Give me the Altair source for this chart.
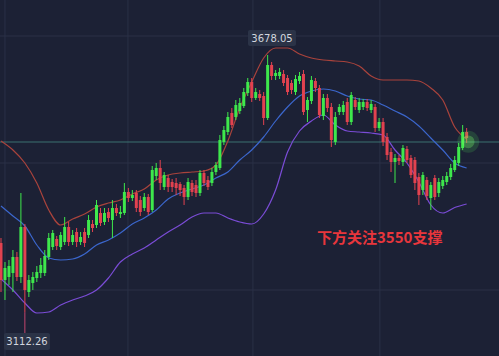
import altair as alt
import pandas as pd

opens = [3264.4, 3183, 3189.6, 3198.4, 3233.6, 3189.6, 3299.6, 3156.6, 3176.4, 3187.4,
         3198.4, 3198.4, 3233.6, 3255.6, 3273.2, 3255.6, 3266.6, 3299.6, 3266.6, 3288.6,
         3266.6, 3288.6, 3282, 3306.2, 3304, 3330.4, 3310.6, 3332.6, 3315, 3341.4,
         3328.2, 3330.4, 3376.6, 3363.4, 3374.4, 3359, 3341.4, 3365.6, 3337, 3411.8,
         3429.4, 3387.6, 3407.4, 3398.6, 3396.4, 3394.2, 3385.4, 3365.6, 3396.4, 3392,
         3374.4, 3418.4, 3403, 3396.4, 3420.6, 3429.4, 3486.6, 3508.6, 3550.4, 3541.6,
         3554.8, 3565.8, 3594.4, 3618.6, 3583.4, 3592.2, 3587.8, 3539.4, 3656, 3631.8,
         3631.8, 3636.2, 3627.4, 3616.4, 3596.6, 3620.8, 3636.2, 3557, 3576.8, 3620.8,
         3605.4, 3543.8, 3583.4, 3563.6, 3486.6, 3552.6, 3552.6, 3574.6, 3530.6, 3579,
         3557, 3563.6, 3574.6, 3557, 3563.6, 3517.4, 3530.6, 3497.6, 3464.6, 3442.6,
         3451.4, 3442.6, 3471.2, 3451.4, 3447, 3409.6, 3381, 3403, 3363.4, 3407.4,
         3374.4, 3389.8, 3398.6, 3409.6, 3425, 3440.4, 3473.4, 3508.6]
closes = [3183, 3209.4, 3213.8, 3233.6, 3189.6, 3299.6, 3161, 3183, 3189.6, 3200.6,
          3216, 3235.8, 3275.4, 3286.4, 3257.8, 3282, 3299.6, 3266.6, 3282, 3266.6,
          3277.6, 3264.4, 3315, 3297.4, 3348, 3308.4, 3330.4, 3319.4, 3341.4, 3330.4,
          3332.6, 3376.6, 3363.4, 3370, 3341.4, 3332.6, 3365.6, 3332.6, 3425, 3429.4,
          3396.4, 3414, 3387.6, 3387.6, 3385.4, 3381, 3365.6, 3398.6, 3376.6, 3374.4,
          3418.4, 3396.4, 3387.6, 3420.6, 3436, 3491, 3513, 3541.6, 3524, 3568,
          3572.4, 3596.6, 3618.6, 3583.4, 3596.6, 3583.4, 3539.4, 3656, 3631.8, 3638.4,
          3640.6, 3616.4, 3596.6, 3601, 3625.2, 3631.8, 3552.6, 3579, 3623, 3605.4,
          3546, 3583.4, 3561.4, 3491, 3541.6, 3563.6, 3568, 3530.6, 3590, 3563.6,
          3574.6, 3574.6, 3561.4, 3570.2, 3517.4, 3530.6, 3486.6, 3458, 3442.6, 3451.4,
          3444.8, 3473.4, 3447, 3414, 3396.4, 3370, 3414, 3367.8, 3392, 3365.6,
          3398.6, 3403, 3411.8, 3429.4, 3447, 3475.6, 3508.6, 3495.4]
highs = [3275.4, 3222.6, 3227, 3249, 3244.6, 3374.4, 3306.2, 3194, 3200.6, 3213.8,
         3231.4, 3249, 3286.4, 3293, 3279.8, 3288.6, 3321.6, 3310.6, 3293, 3297.4,
         3288.6, 3297.4, 3326, 3315, 3359, 3341.4, 3341.4, 3341.4, 3359, 3350.2,
         3345.8, 3396.4, 3385.4, 3381, 3381, 3367.8, 3374.4, 3372.2, 3433.8, 3440.4,
         3447, 3420.6, 3414, 3405.2, 3407.4, 3398.6, 3392, 3407.4, 3403, 3403,
         3425, 3425, 3411.8, 3429.4, 3442.6, 3502, 3521.8, 3552.6, 3561.4, 3579,
         3583.4, 3605.4, 3627.4, 3627.4, 3605.4, 3601, 3596.6, 3678.05, 3662.6, 3645,
         3649.4, 3645, 3634, 3623, 3634, 3640.6, 3645, 3585.6, 3631.8, 3627.4,
         3612, 3592.2, 3592.2, 3572.4, 3552.6, 3570.2, 3576.8, 3583.4, 3596.6, 3585.6,
         3583.4, 3581.2, 3581.2, 3579, 3570.2, 3539.4, 3539.4, 3506.4, 3473.4, 3460.2,
         3458, 3480, 3477.8, 3458, 3453.6, 3418.4, 3420.6, 3409.6, 3398.6, 3414,
         3407.4, 3411.8, 3420.6, 3438.2, 3455.8, 3484.4, 3524, 3517.4]
lows = [3156.6, 3139, 3172, 3156.6, 3180.8, 3176.4, 3112.26, 3145.6, 3161, 3178.6,
        3187.4, 3191.8, 3227, 3249, 3249, 3249, 3260, 3257.8, 3260, 3255.6,
        3260, 3255.6, 3275.4, 3288.6, 3297.4, 3301.8, 3304, 3310.6, 3275.4, 3323.8,
        3319.4, 3326, 3354.6, 3356.8, 3332.6, 3323.8, 3334.8, 3326, 3332.6, 3403,
        3381, 3381, 3376.6, 3376.6, 3370, 3367.8, 3348, 3359, 3367.8, 3365.6,
        3367.8, 3389.8, 3381, 3389.8, 3414, 3425, 3480, 3502, 3517.4, 3535,
        3548.2, 3561.4, 3587.8, 3574.6, 3579, 3576.8, 3524, 3535, 3623, 3623,
        3625.2, 3609.8, 3590, 3592.2, 3590, 3614.2, 3546, 3530.6, 3570.2, 3596.6,
        3539.4, 3535, 3552.6, 3475.6, 3480, 3546, 3546, 3524, 3524, 3557,
        3550.4, 3557, 3554.8, 3550.4, 3508.6, 3510.8, 3477.8, 3447, 3420.6, 3396.4,
        3436, 3433.8, 3440.4, 3407.4, 3381, 3348, 3370, 3359, 3337, 3359,
        3365.6, 3383.2, 3392, 3403, 3420.6, 3433.8, 3469, 3484.4]

band_idx = [0, 3, 6, 9, 12, 15, 18, 21, 24, 27, 30, 33, 36, 39, 42, 45, 48, 51, 54, 57,
            60, 63, 66, 69, 72, 75, 78, 81, 84, 87, 90, 93, 96, 99, 102, 105, 108, 111, 114, 117]
upper = [3488.8, 3469, 3440.4, 3396.4, 3337, 3304, 3317.2, 3328.2, 3343.6, 3352.4,
         3359, 3372.2, 3383.2, 3403, 3414, 3418.4, 3420.6, 3422.8, 3436, 3488.8,
         3561.4, 3618.6, 3671.4, 3693.4, 3693.4, 3680.2, 3671.4, 3667, 3664.8, 3662.6,
         3653.8, 3631.8, 3623, 3623, 3623, 3620.8, 3605.4, 3579, 3519.6, 3493.2]
middle = [3345.8, 3323.8, 3301.8, 3260, 3231.4, 3227, 3229.2, 3240.2, 3260, 3271,
          3286.4, 3306.2, 3319.4, 3337, 3361.2, 3374.4, 3383.2, 3392, 3407.4, 3420.6,
          3447, 3469, 3497.6, 3532.8, 3563.6, 3587.8, 3598.8, 3603.2, 3598.8, 3587.8,
          3581.2, 3579, 3568, 3554.8, 3541.6, 3521.8, 3495.4, 3469, 3440.4, 3429.4]
lower = [3185.2, 3161, 3132.4, 3110.4, 3112.6, 3128, 3139, 3147.8, 3161, 3187.4,
         3222.6, 3240.2, 3253.4, 3271, 3288.6, 3304, 3321.6, 3330.4, 3330.4, 3319.4,
         3310.6, 3306.2, 3328.2, 3381, 3464.6, 3510.8, 3532.8, 3546, 3524, 3510.8,
         3508.6, 3506.4, 3502, 3469, 3440.4, 3398.6, 3348, 3330.4, 3342.4, 3350.2]

grid_x = [1.0, 31.9, 63.3, 95.2]
grid_y = [3719.8, 3440.4, 3161]
high_label = "3678.05"
low_label = "3112.26"
note_text = "下方关注3550支撑"
last_price = 3486.6

BG = "#1c2135"
GREEN = "#3ee84c"
RED = "#e2424f"
UPPER_C = "#a9433c"
MID_C = "#3b66cc"
LOW_C = "#7a4cd6"

xs = alt.Scale(domain=[-0.25, 125.13], nice=False, zero=False)
ys = alt.Scale(domain=[3015.8, 3799], nice=False, zero=False)
X = lambda f: alt.X(f, type="quantitative", scale=xs, axis=None)
Y = lambda f: alt.Y(f, type="quantitative", scale=ys, axis=None)

candles = pd.DataFrame({
    "idx": list(range(len(opens))),
    "open": opens, "close": closes, "high": highs, "low": lows,
})
candles["up"] = [c >= o for o, c in zip(opens, closes)]
up_df = candles[candles["up"]]
dn_df = candles[~candles["up"]]

gx = alt.Chart(pd.DataFrame({"gx": grid_x})).mark_rule(color="#2a3046", strokeWidth=1).encode(x=X("gx"))
gy = alt.Chart(pd.DataFrame({"gy": grid_y})).mark_rule(color="#2a3046", strokeWidth=1).encode(y=Y("gy"))
price_line = alt.Chart(pd.DataFrame({"p": [last_price]})).mark_rule(
    color="#3f7f7a", strokeWidth=1, opacity=0.85).encode(y=Y("p"))


def band(vals, col):
    return alt.Chart(pd.DataFrame({"idx": band_idx, "v": vals})).mark_line(
        strokeWidth=1.2, interpolate="monotone", color=col).encode(x=X("idx"), y=Y("v"))


def candle_layers(df, col):
    w = alt.Chart(df).mark_rule(strokeWidth=1, color=col).encode(x=X("idx"), y=Y("low"), y2="high")
    b = alt.Chart(df).mark_rule(strokeWidth=3, color=col).encode(x=X("idx"), y=Y("open"), y2="close")
    return [w, b]


low_line = alt.Chart(pd.DataFrame({"i": [6], "a": [3112.26], "b": [3066.4]})).mark_rule(
    color="#c2466e", strokeWidth=1).encode(x=X("i"), y=Y("a"), y2="b")

glow = pd.DataFrame({"i": [117.4], "p": [3487]})
glow1 = alt.Chart(glow).mark_circle(color="#5cff5c", opacity=0.15, size=480).encode(x=X("i"), y=Y("p"))
glow2 = alt.Chart(glow).mark_circle(color="#7dff6a", opacity=0.3, size=160).encode(x=X("i"), y=Y("p"))

boxes = pd.DataFrame({
    "x1": [62.06, 0.75], "x2": [74.12, 12.31],
    "y1": [3733.0, 3066.4], "y2": [3697.8, 3029.0],
})
box_layer = alt.Chart(boxes).mark_rect(color="#2b3347", cornerRadius=2).encode(
    x=X("x1"), x2="x2", y=Y("y1"), y2="y2")
labels = pd.DataFrame({"i": [68.09, 6.53], "p": [3714.3, 3047.7], "t": [high_label, low_label]})
label_layer = alt.Chart(labels).mark_text(color="#d2d6de", fontSize=10, font="DejaVu Sans").encode(
    x=X("i"), y=Y("p"), text="t:N")

note = alt.Chart(pd.DataFrame({"i": [79.4], "p": [3276.5], "t": [note_text]})).mark_text(
    color="#e8363c", fontSize=15, font="Noto Sans CJK SC", fontWeight="bold", align="left"
).encode(x=X("i"), y=Y("p"), text="t:N")

chart = alt.layer(
    gx, gy, price_line,
    band(upper, UPPER_C), band(middle, MID_C), band(lower, LOW_C),
    *candle_layers(up_df, GREEN), *candle_layers(dn_df, RED),
    low_line, glow1, glow2, box_layer, label_layer, note,
).properties(
    width=499, height=356,
    autosize=alt.AutoSizeParams(type="none"),
    padding=0,
    background=BG,
).configure_view(strokeWidth=0)

chart.save("out.html", embed_options={"renderer": "svg", "actions": False})
